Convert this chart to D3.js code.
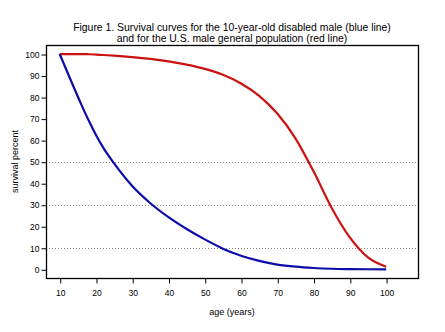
<!DOCTYPE html>
<html>
<head>
<meta charset="utf-8">
<script src="https://cdn.jsdelivr.net/npm/d3@7"></script>
<style>
  body { margin: 0; background: #fff; }
  text { font-family: "Liberation Sans", Arial, sans-serif; fill: #000; }
</style>
</head>
<body>
<div id="chart"></div>
<script>
// survival curves, percent alive by age

var ages = [10, 12, 14, 16, 18, 20, 22, 25, 30, 35, 40, 45, 50, 55, 60, 65, 70, 75, 80, 85, 90, 95, 100]
var disabled = [100, 92, 84.1, 76.4, 69.1, 62.4, 56.5, 49.2, 38.7, 30.7, 24.2, 18.7, 13.9, 9.6, 6.3, 3.9, 2.2, 1.2, 0.6, 0.25, 0.1, 0.02, 0]
var general = [100, 100, 100, 100, 99.9, 99.75, 99.55, 99.25, 98.6, 97.75, 96.6, 95.1, 93.1, 90.35, 86.35, 80.6, 72.35, 60.85, 45.5, 28.5, 14.8, 5.5, 1.2]

var xTicks = [10, 20, 30, 40, 50, 60, 70, 80, 90, 100]
var yTicks = [0, 10, 20, 30, 40, 50, 60, 70, 80, 90, 100]
var gridVals = [10, 30, 50]

var width = 445
var height = 332
var boxL = 46, boxR = 418, boxT = 45, boxB = 278

var svg = d3.select('#chart').append('svg')
  .attr('width', width)
  .attr('height', height)

var x = d3.scaleLinear().domain([6.22, 108.8]).range([boxL, boxR])
var y = d3.scaleLinear().domain([-4.04, 104.2]).range([boxB, boxT])

// dotted reference lines
svg.selectAll('line.grid')
  .data(gridVals)
  .enter()
  .append('line')
  .attr('class', 'grid')
  .attr('x1', boxL).attr('x2', boxR)
  .attr('y1', function(d) { return Math.round(y(d)) + 0.5 })
  .attr('y2', function(d) { return Math.round(y(d)) + 0.5 })
  .attr('stroke', '#888')
  .attr('stroke-width', 1)
  .attr('stroke-dasharray', '1,2')

var line = d3.line()
  .x(function(d) { return x(d[0]) })
  .y(function(d) { return y(d[1]) })
  .curve(d3.curveMonotoneX)

svg.append('path')
  .datum(d3.zip(ages, general))
  .attr('d', line)
  .attr('fill', 'none')
  .attr('stroke', '#cc1111')
  .attr('stroke-width', 2.2)

svg.append('path')
  .datum(d3.zip(ages, disabled))
  .attr('d', line)
  .attr('fill', 'none')
  .attr('stroke', '#0c0ca8')
  .attr('stroke-width', 2.2)

// box
svg.append('rect')
  .attr('x', boxL + 0.5).attr('y', boxT + 0.5)
  .attr('width', boxR - boxL).attr('height', boxB - boxT)
  .attr('fill', 'none')
  .attr('stroke', '#000')
  .attr('stroke-width', 1.3)

var yAxis = svg.append('g')
  .attr('transform', 'translate(' + (boxL + 0.5) + ',0.5)')
  .call(d3.axisLeft(y).tickValues(yTicks).tickSize(5).tickPadding(2))
yAxis.select('.domain').remove()
yAxis.selectAll('text').style('font-size', '8.5px')

var xAxis = svg.append('g')
  .attr('transform', 'translate(0.5,' + (boxB + 0.5) + ')')
  .call(d3.axisBottom(x).tickValues(xTicks).tickSize(5).tickPadding(6))
xAxis.select('.domain').remove()
xAxis.selectAll('text').style('font-size', '8.5px')

svg.append('text')
  .attr('x', (boxL + boxR) / 2).attr('y', 315)
  .attr('text-anchor', 'middle')
  .style('font-size', '9px')
  .text('age (years)')

svg.append('text')
  .attr('transform', 'translate(18,' + (boxT + boxB) / 2 + ') rotate(-90)')
  .attr('text-anchor', 'middle')
  .style('font-size', '9px')
  .text('survival percent')

svg.append('text')
  .attr('x', (boxL + boxR) / 2).attr('y', 31)
  .attr('text-anchor', 'middle')
  .style('font-size', '10.4px')
  .text('Figure 1. Survival curves for the 10-year-old disabled male (blue line)')

svg.append('text')
  .attr('x', (boxL + boxR) / 2).attr('y', 42)
  .attr('text-anchor', 'middle')
  .style('font-size', '10.4px')
  .text('and for the U.S. male general population (red line)')
</script>
</body>
</html>
